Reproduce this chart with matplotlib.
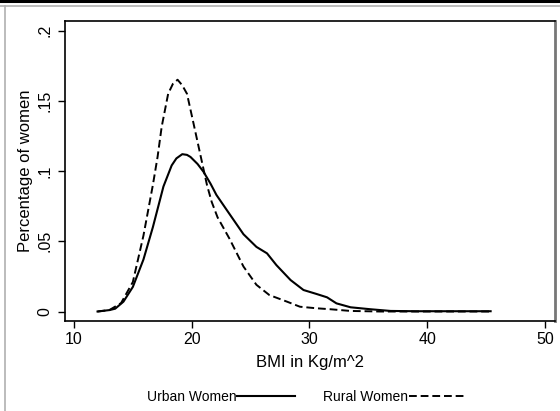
import matplotlib
matplotlib.use("Agg")
import matplotlib.pyplot as plt
from matplotlib.lines import Line2D

plt.rcParams['font.family'] = ['Liberation Sans', 'DejaVu Sans']

# Urban women (solid)
urban_x = [12.0, 13.0, 13.5, 14.2, 15.0, 15.9, 16.7, 17.6, 18.3, 18.7, 19.2, 19.6, 19.9, 20.5,
           21.0, 21.6, 22.1, 23.0, 24.4, 25.5, 26.4, 27.2, 28.4, 29.5, 30.6, 31.5,
           32.3, 33.5, 35.2, 36.9, 39.0, 42.0, 45.4]
urban_y = [0.000, 0.001, 0.002, 0.007, 0.0175, 0.037, 0.060, 0.089, 0.104, 0.109, 0.112, 0.1115,
           0.110, 0.105, 0.0995, 0.091, 0.083, 0.072, 0.055, 0.046, 0.0414, 0.033, 0.0224, 0.0153,
           0.0125, 0.0101, 0.0058, 0.003, 0.0016, 0.0004, 0.0002, 0.0002, 0.0002]

# Rural women (dashed)
rural_x = [12.0, 13.0, 14.0, 15.0, 15.9, 16.7, 17.1, 17.45, 18.0, 18.4, 18.8, 19.2, 19.6, 20.1,
           20.7, 21.3, 21.7, 22.2, 23.2, 24.4, 25.5, 26.6, 28.1, 29.2, 30.6, 31.8, 33.5,
           36.0, 40.0, 45.4]
rural_y = [0.000, 0.001, 0.006, 0.021, 0.054, 0.090, 0.110, 0.1315, 0.155, 0.162, 0.165, 0.161,
           0.155, 0.136, 0.113, 0.090, 0.078, 0.067, 0.052, 0.032, 0.019, 0.0117, 0.007, 0.0034,
           0.0023, 0.0016, 0.0004, 0.0, 0.0, 0.0]

xticks = [10, 20, 30, 40, 50]
yticks = [0, 0.05, 0.1, 0.15, 0.2]
ytick_labels = ["0", ".05", ".1", ".15", ".2"]
series_labels = ["Urban Women", "Rural Women"]

W, H = 560, 411
fig = plt.figure(figsize=(W / 100, H / 100), dpi=100)
fig.patch.set_facecolor("white")

L, R, T, B = 65, 555, 21, 321
ax = fig.add_axes([L / W, 1 - B / H, (R - L) / W, (B - T) / H])

ax.plot(urban_x, urban_y, color="black", lw=1.5, solid_joinstyle="round",
        label=series_labels[0])
ax.plot(rural_x, rural_y, color="black", lw=1.4, linestyle=(0, (4, 2)),
        label=series_labels[1])

ax.set_xlim(9.235, 50.87)
ax.set_ylim(-0.00676, 0.2068)
ax.set_xticks(xticks)
ax.set_xticklabels([str(v) for v in xticks])
ax.set_yticks(yticks)
ax.set_yticklabels(ytick_labels, rotation=90, va="center")

ax.tick_params(axis="both", direction="out", length=5, width=1, labelsize=11.5,
               color="black", pad=3)
ax.tick_params(axis="y", pad=4)
for s in ax.spines.values():
    s.set_linewidth(1.2)
    s.set_color("black")
ax.spines["right"].set_color("#777777")
ax.spines["right"].set_linewidth(2)

ax.set_xlabel("BMI in Kg/m^2", fontsize=12, labelpad=6)
ax.set_ylabel("Percentage of women", fontsize=12, labelpad=3)

leg = fig.legend(loc="center", bbox_to_anchor=(307 / W, 1 - 397 / H), ncol=2,
                 frameon=False, markerfirst=False, fontsize=10, handlelength=4.2,
                 handletextpad=0.05, columnspacing=2.0)

# outer frame decoration (cropped Stata graph look)
fig.add_artist(Line2D([0, 1], [1 - 1 / H, 1 - 1 / H], transform=fig.transFigure,
                      color="black", lw=2.2))
fig.add_artist(Line2D([0, 1], [1 - 6.5 / H, 1 - 6.5 / H], transform=fig.transFigure,
                      color="#b0b0b0", lw=1.2))
fig.add_artist(Line2D([5 / W, 5 / W], [0, 1 - 6.5 / H], transform=fig.transFigure,
                      color="#b0b0b0", lw=1.2))

fig.savefig("out.png", dpi=100, facecolor="white")
